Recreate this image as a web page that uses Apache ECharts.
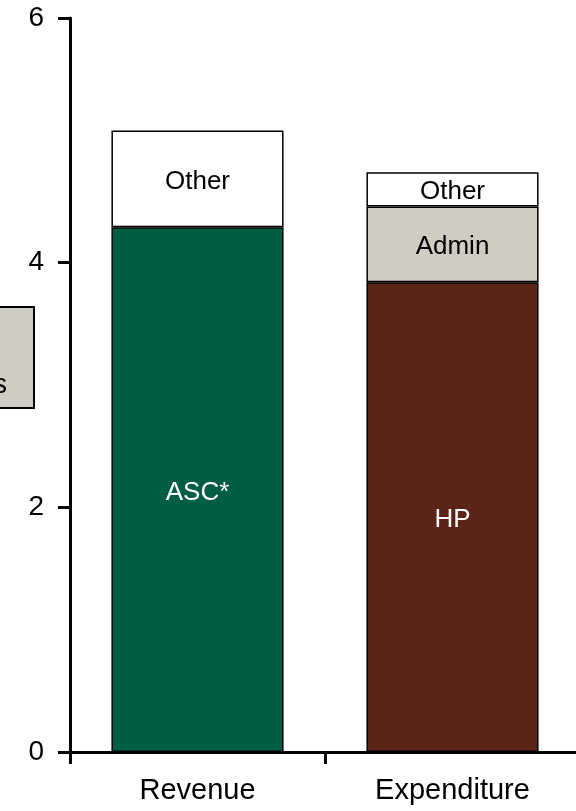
<!DOCTYPE html>
<html>
<head>
<meta charset="utf-8">
<script src="https://cdn.jsdelivr.net/npm/echarts@6/dist/echarts.min.js"></script>
<style>
html,body{margin:0;padding:0;background:#fff;overflow:hidden;}
#chart{width:584px;height:811px;}
</style>
</head>
<body>
<div id="chart"></div>
<script>
const categories = ['Revenue', 'Expenditure'];
const baseNames = ['ASC*', 'HP'];
const baseValues = [4.29, 3.84];
const adminValues = [0, 0.62];
const otherValues = [0.79, 0.28];
const yTicks = [0, 2, 4, 6];

const FONT = 'Liberation Sans, Arial, sans-serif';
const GREEN = '#025E43', BROWN = '#5A2518', GREY = '#CFCDC1';

const chart = echarts.init(document.getElementById('chart'), null, {renderer: 'canvas'});

const segLabel = (color) => ({
  show: true, position: 'inside', color: color,
  fontFamily: FONT, fontSize: 26, offset: [0, 3]
});

chart.setOption({
  animation: false,
  backgroundColor: '#fff',
  grid: {left: 70, top: 18, right: 4, bottom: 59, containLabel: false},
  xAxis: {
    type: 'category',
    data: categories,
    boundaryGap: true,
    axisLine: {lineStyle: {color: '#000', width: 3}},
    axisTick: {show: true, length: 12, lineStyle: {color: '#000', width: 3}},
    axisLabel: {color: '#000', fontFamily: FONT, fontSize: 29, margin: 24}
  },
  yAxis: {
    type: 'value',
    min: yTicks[0], max: yTicks[yTicks.length - 1], interval: 2,
    splitLine: {show: false},
    axisLine: {show: true, lineStyle: {color: '#000', width: 3}},
    axisTick: {show: true, length: 12, lineStyle: {color: '#000', width: 3}},
    axisLabel: {color: '#000', fontFamily: FONT, fontSize: 28, margin: 26, padding: [5, 0, 0, 0]}
  },
  series: [
    {
      type: 'bar', stack: 'total', barWidth: '67.5%',
      data: baseValues.map((v, i) => ({
        value: v, name: baseNames[i],
        itemStyle: {color: i === 0 ? GREEN : BROWN}
      })),
      itemStyle: {borderColor: '#000', borderWidth: 1.5},
      label: Object.assign(segLabel('#fff'), {formatter: p => p.name})
    },
    {
      type: 'bar', stack: 'total', barWidth: '67.5%',
      data: adminValues.map(v => v > 0 ? v : null),
      itemStyle: {color: GREY, borderColor: '#000', borderWidth: 1.5},
      label: Object.assign(segLabel('#000'), {formatter: 'Admin'})
    },
    {
      type: 'bar', stack: 'total', barWidth: '67.5%',
      data: otherValues,
      itemStyle: {color: '#fff', borderColor: '#000', borderWidth: 1.5},
      label: Object.assign(segLabel('#000'), {formatter: 'Other'})
    }
  ],
  graphic: [
    {
      type: 'rect', z: 10,
      shape: {x: -60, y: 307, width: 94, height: 101},
      style: {fill: GREY, stroke: '#000', lineWidth: 2}
    },
    {
      type: 'text', z: 11, x: 7, y: 386,
      style: {text: 's', fill: '#000', font: '27px ' + FONT, align: 'right', verticalAlign: 'middle'}
    }
  ]
});
</script>
</body>
</html>
